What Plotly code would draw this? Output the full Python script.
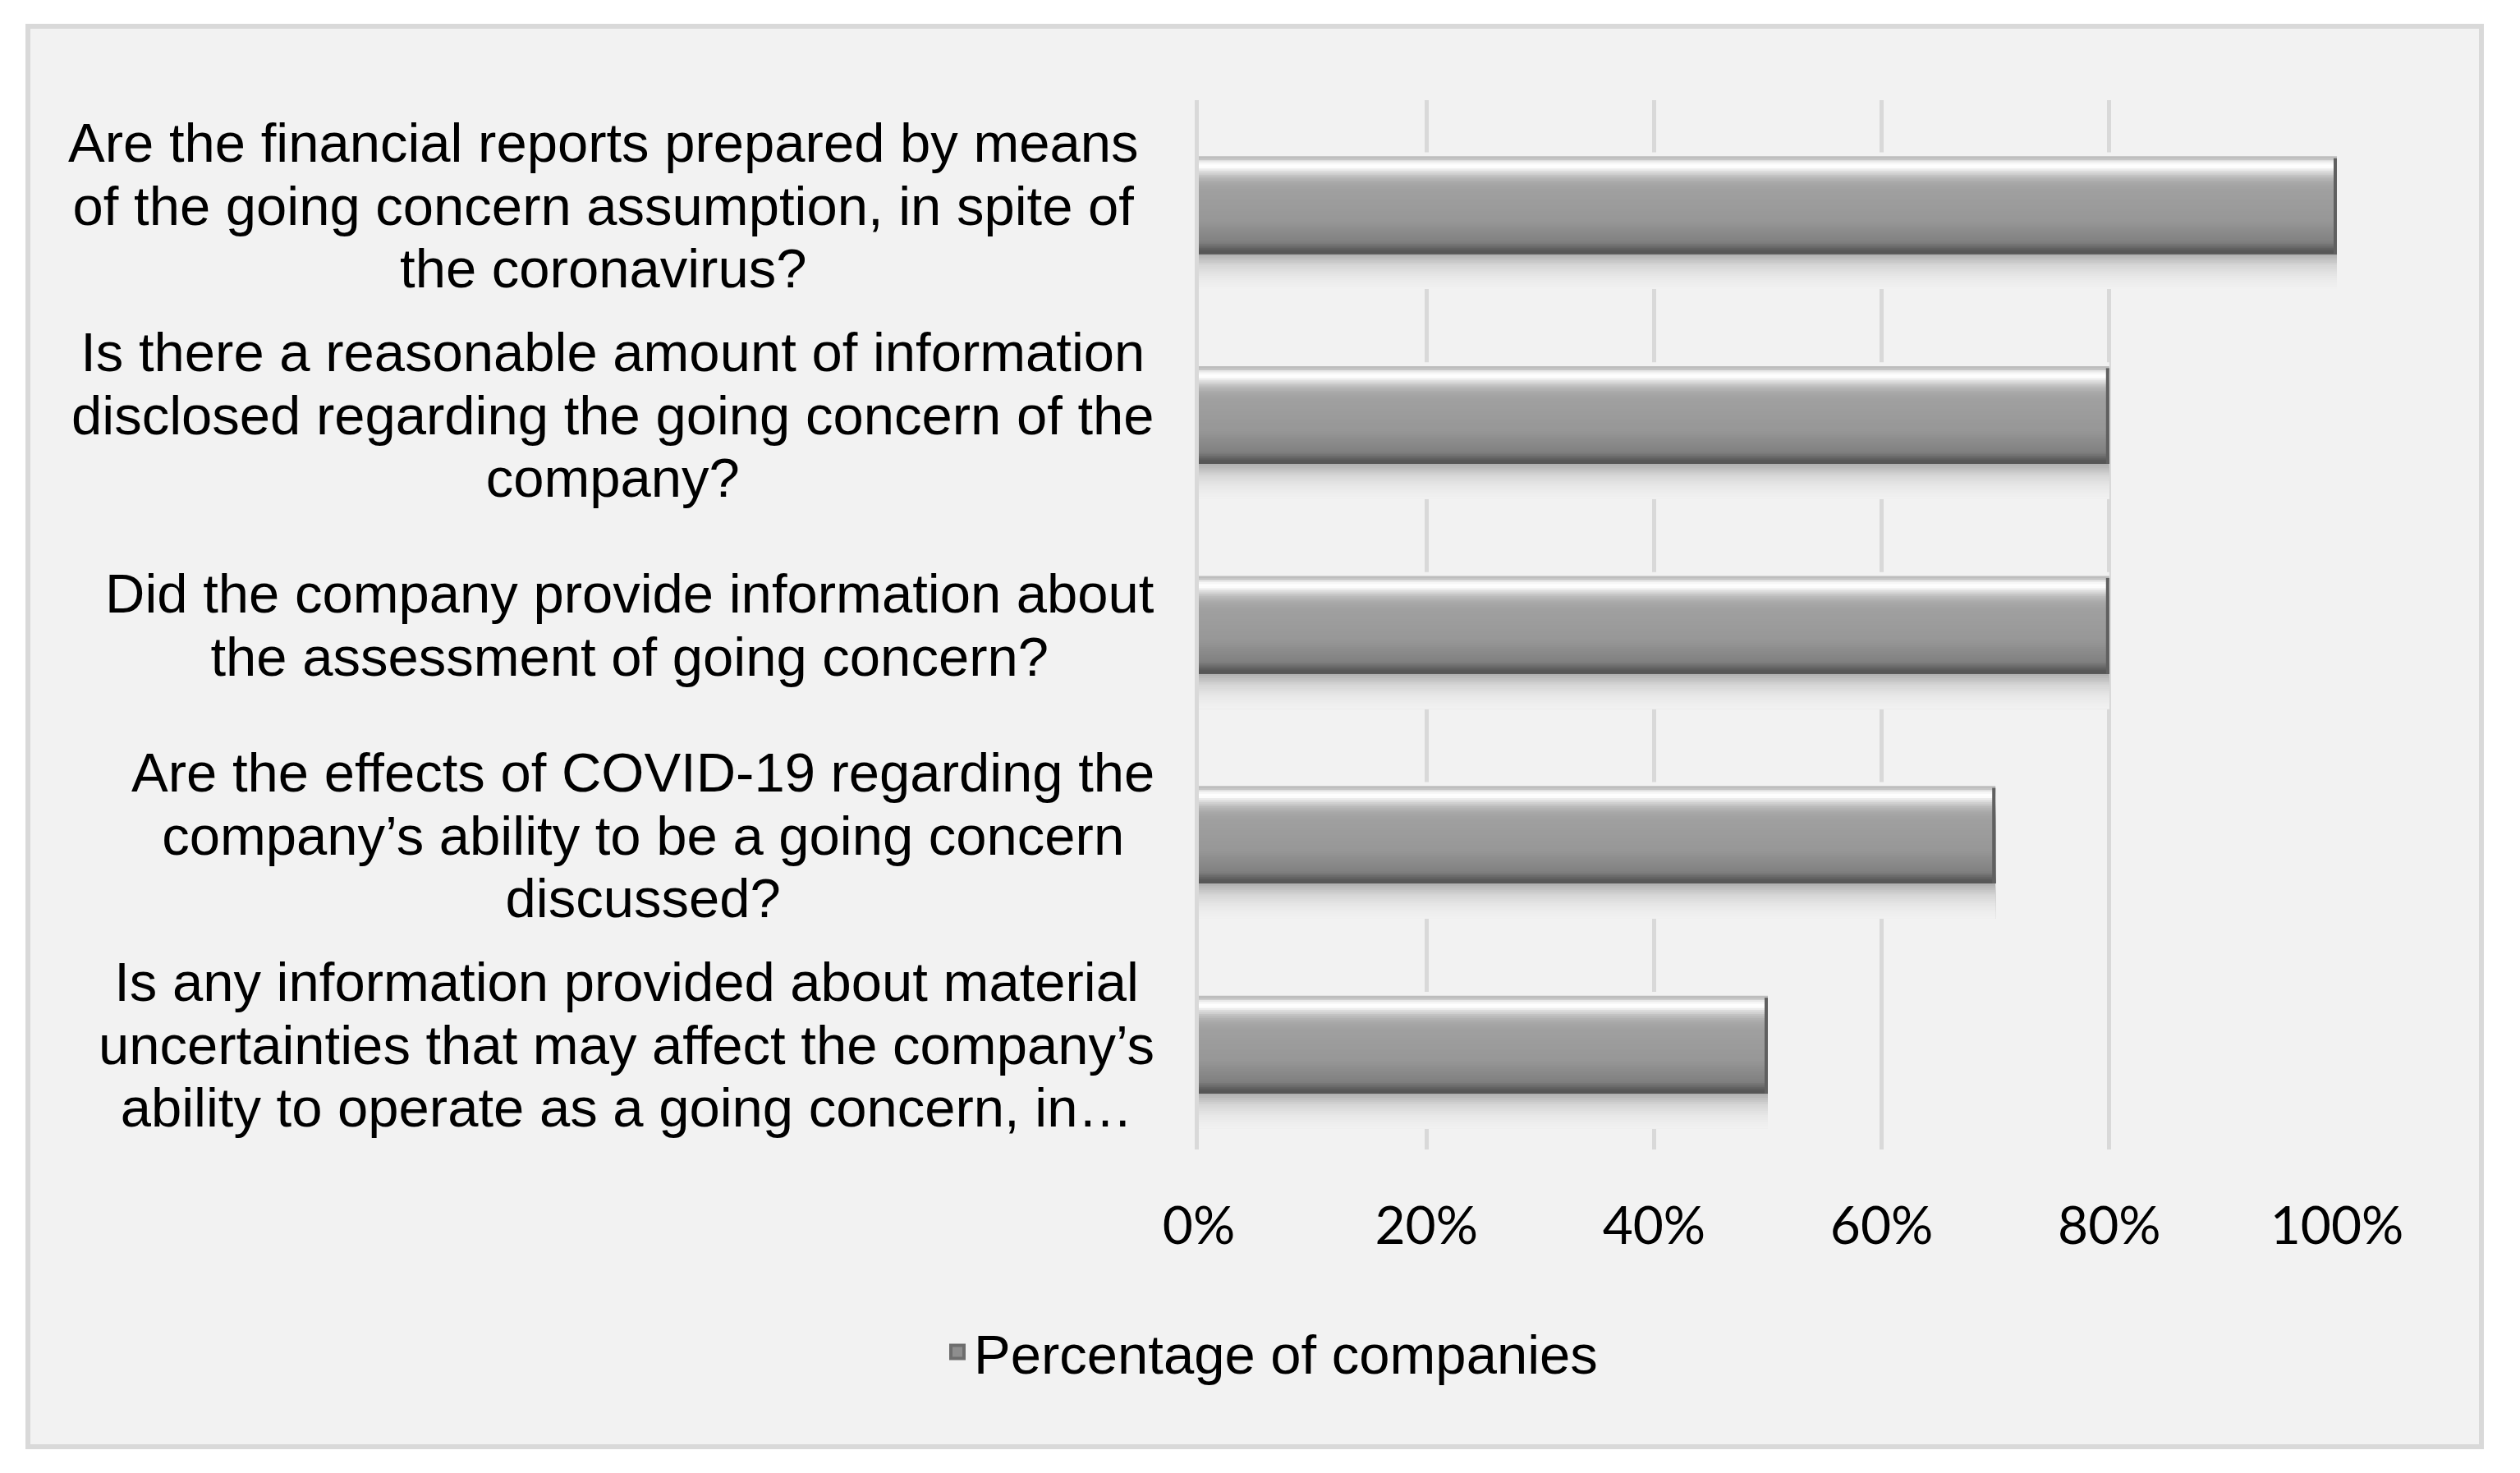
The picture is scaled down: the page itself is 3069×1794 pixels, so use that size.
import plotly.graph_objects as go

# ---------------- data ----------------
label_lines = [
    ["Are the financial reports prepared by means",
     "of the going concern assumption, in spite of",
     "the coronavirus?"],
    ["Is there a reasonable amount of information",
     "disclosed regarding the going concern of the",
     "company?"],
    ["Did the company provide information about",
     "the assessment of going concern?"],
    ["Are the effects of COVID-19 regarding the",
     "company\u2019s ability to be a going concern",
     "discussed?"],
    ["Is any information provided about material",
     "uncertainties that may affect the company\u2019s",
     "ability to operate as a going concern, in\u2026"],
]
values = [1.00, 0.80, 0.80, 0.70, 0.50]
tick_vals = [0, 0.2, 0.4, 0.6, 0.8, 1.0]
tick_text = ["0%", "20%", "40%", "60%", "80%", "100%"]
series_name = "Percentage of companies"

categories = [" ".join(l) for l in label_lines]

# ---------------- style ----------------
W, H = 3069, 1794
ML, MR, MT, MB = 1460, 223, 122, 394
PW, PH = W - ML - MR, H - MT - MB
BAR_W = 0.465
LABEL_FONT = "Liberation Sans, Arial, sans-serif"
TICK_FONT = "Lato, Open Sans, sans-serif"
label_right_px = [1389, 1408, 1408, 1408, 1408]
END_EDGE = 4 / PW          # dark rim at the bar end (in axis units)

# vertical shading of the bar (fraction of thickness from top, grey level)
bar_stops = [(0.00, 0xb9), (0.035, 0xc8), (0.05, 0xe8), (0.085, 0xff),
             (0.115, 0xfc), (0.15, 0xe0), (0.21, 0xbc), (0.27, 0xa8),
             (0.34, 0xa0), (0.66, 0x97), (0.78, 0x8a), (0.88, 0x80),
             (0.93, 0x6a), (0.97, 0x57), (1.00, 0x55)]
shadow_stops = [(1.00, 0xae), (1.06, 0xc2), (1.12, 0xd6), (1.23, 0xe8),
                (1.36, 0xf2)]
HALO_TOP = -0.04
N_BAR, N_SHADOW = 48, 16


def grey_at(stops, t):
    for (t0, g0), (t1, g1) in zip(stops, stops[1:]):
        if t <= t1:
            f = 0 if t1 == t0 else (t - t0) / (t1 - t0)
            g = round(g0 + (g1 - g0) * max(0, min(1, f)))
            return "#%02x%02x%02x" % (g, g, g)
    g = stops[-1][1]
    return "#%02x%02x%02x" % (g, g, g)


fig = go.Figure()


def add_layer(top, bottom, colour, x=None, base=None):
    fig.add_trace(go.Bar(
        x=values if x is None else x, y=categories, base=base,
        orientation="h",
        width=(bottom - top) * BAR_W, offset=-BAR_W / 2 + top * BAR_W,
        marker=dict(color=colour, line=dict(width=0)),
        name=series_name, showlegend=False, hoverinfo="skip",
    ))


# glow around / shadow below the bar (hides grid lines there)
s0, s1 = shadow_stops[0][0], shadow_stops[-1][0]
add_layer(HALO_TOP, s1, "#f2f2f2")
for k in range(N_SHADOW):
    t = s0 + (s1 - s0) * k / N_SHADOW
    add_layer(t, s1, grey_at(shadow_stops, t + (s1 - s0) / N_SHADOW / 2))
# the bar itself, layered top-to-bottom so there are no seams
for k in range(N_BAR):
    t = k / N_BAR
    add_layer(t, 1.0, grey_at(bar_stops, t + 0.5 / N_BAR))
# darker rim at the end of each bar
add_layer(0.02, 1.0, "#606060",
          x=[END_EDGE] * len(values), base=[v - END_EDGE for v in values])

# legend entry of the series (empty data)
fig.add_trace(go.Scatter(
    x=[None], y=[None], mode="markers", name=series_name,
    marker=dict(symbol="square", size=16, color="#8e8e8e",
                line=dict(color="#6e6e6e", width=4)),
    showlegend=True, hoverinfo="skip"))

# category labels (centred multi-line blocks, right-aligned to the axis)
for cat, lines, rpx in zip(categories, label_lines, label_right_px):
    txt = "<br>".join('<span style="font-size:67px">%s</span>' % l for l in lines)
    fig.add_annotation(
        x=(rpx - ML) / PW, xref="paper", xanchor="right",
        y=cat, yref="y", yanchor="middle",
        text=txt, align="center", showarrow=False,
        font=dict(family=LABEL_FONT, size=59, color="black"),
    )

# chart-area frame
fig.add_shape(
    type="rect", xref="paper", yref="paper", layer="below",
    x0=(34 - ML) / PW, x1=(3022 - ML) / PW,
    y0=(H - MB - 1762) / PH, y1=(H - MB - 32) / PH,
    line=dict(color="#d9d9d9", width=6), fillcolor="#f2f2f2",
)

fig.update_layout(
    width=W, height=H,
    margin=dict(l=ML, r=MR, t=MT, b=MB, pad=0),
    paper_bgcolor="white", plot_bgcolor="rgba(0,0,0,0)",
    barmode="overlay",
    showlegend=True,
    legend=dict(orientation="h", x=(1146 - ML) / PW, xanchor="left",
                y=(H - MB - 1647) / PH, yanchor="middle",
                itemsizing="trace",
                font=dict(family=LABEL_FONT, size=67, color="black"),
                bgcolor="rgba(0,0,0,0)"),
    xaxis=dict(range=[0, 1], tickvals=tick_vals, ticktext=tick_text,
               showgrid=True, gridcolor="#d9d9d9", gridwidth=5,
               zeroline=False, showline=False, ticks="",
               ticklabelstandoff=50,
               tickfont=dict(family=TICK_FONT, size=64, color="black"),
               fixedrange=True),
    yaxis=dict(autorange="reversed", showticklabels=False, showgrid=False,
               zeroline=False, showline=True, linecolor="#d9d9d9",
               linewidth=5, ticks="", fixedrange=True),
)

fig.write_html("out.html", config={"displayModeBar": False},
               post_script="document.body.style.margin='0px';")
